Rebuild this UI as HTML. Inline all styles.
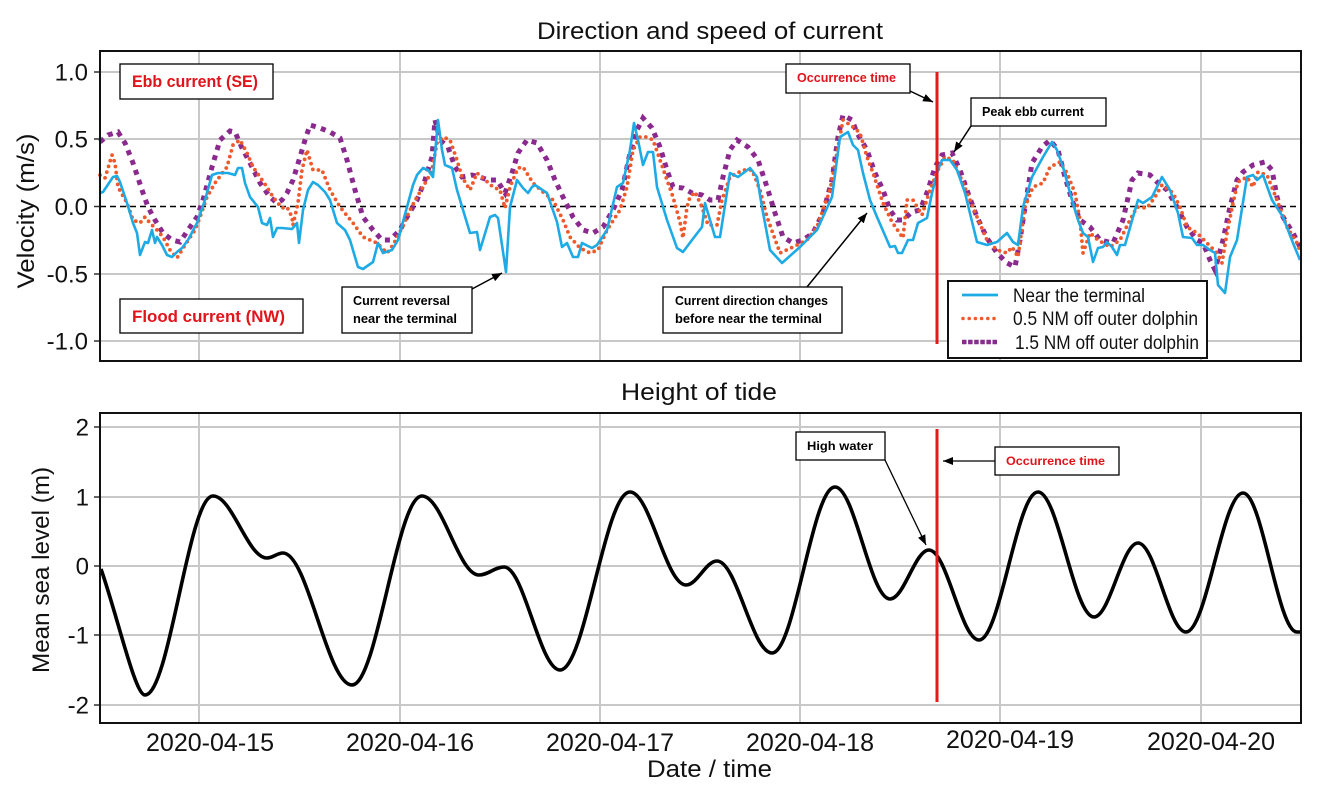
<!DOCTYPE html>
<html><head><meta charset="utf-8"><style>
html,body{margin:0;padding:0;background:#fff;}
svg{display:block;}
text{font-family:"Liberation Sans",Arial,sans-serif;}
</style></head><body>
<svg width="1317" height="797" viewBox="0 0 1317 797" xmlns="http://www.w3.org/2000/svg">
<defs>
<marker id="ah" viewBox="0 0 10 8" refX="10" refY="4" markerWidth="10" markerHeight="8" orient="auto" markerUnits="userSpaceOnUse"><path d="M0,0 L10,4 L0,8 z" fill="#000"/></marker>
</defs>
<rect x="0" y="0" width="1317" height="797" fill="#fff"/>

<!-- ===== TOP PANEL ===== -->
<text x="537" y="39" font-size="24" textLength="346" lengthAdjust="spacingAndGlyphs" fill="#111">Direction and speed of current</text>
<g stroke="#c8c8c8" stroke-width="2">
<line x1="199" y1="51" x2="199" y2="361"/><line x1="400" y1="51" x2="400" y2="361"/><line x1="600" y1="51" x2="600" y2="361"/>
<line x1="800" y1="51" x2="800" y2="361"/><line x1="1000" y1="51" x2="1000" y2="361"/><line x1="1201" y1="51" x2="1201" y2="361"/>
<line x1="100" y1="72" x2="1301" y2="72"/><line x1="100" y1="139" x2="1301" y2="139"/>
<line x1="100" y1="274" x2="1301" y2="274"/><line x1="100" y1="341" x2="1301" y2="341"/>
</g>
<line x1="100" y1="206.5" x2="1301" y2="206.5" stroke="#000" stroke-width="1.6" stroke-dasharray="6 4"/>
<g stroke="#333" stroke-width="1.5">
<line x1="94" y1="72" x2="100" y2="72"/><line x1="94" y1="139" x2="100" y2="139"/><line x1="94" y1="206.5" x2="100" y2="206.5"/><line x1="94" y1="274" x2="100" y2="274"/><line x1="94" y1="341" x2="100" y2="341"/>
</g>
<g font-size="24" fill="#111" text-anchor="end">
<text x="88" y="80.5">1.0</text><text x="88" y="147.5">0.5</text><text x="88" y="215">0.0</text><text x="88" y="282.5">-0.5</text><text x="88" y="349.5">-1.0</text>
</g>
<text transform="translate(34,211) rotate(-90)" font-size="24" text-anchor="middle" textLength="155" lengthAdjust="spacingAndGlyphs" fill="#111">Velocity (m/s)</text>

<!-- series -->
<polyline fill="none" stroke="#8b2a8e" stroke-width="5" stroke-dasharray="5 5.5" points="100,142 108,135 118,132 125,143 133,163 142,190 148,207 155,220 163,233 172,240 180,242 188,230 197,217 203,200 212,167 220,140 230,131 235,132 242,148 250,163 260,183 270,197 277,203 282,200 287,193 293,180 300,157 305,140 310,125 320,128 330,132 340,138 347,160 355,190 363,217 373,230 382,240 390,240 400,230 407,217 417,200 425,180 432,157 435,120 440,140 448,147 455,167 462,177 472,175 480,177 488,180 497,180 505,193 512,173 518,153 527,140 537,143 547,160 555,180 563,197 573,217 583,230 593,233 603,227 613,210 622,190 630,153 637,130 643,118 652,128 660,147 667,170 673,187 683,188 692,193 702,195 710,200 718,200 723,177 730,150 737,140 748,147 758,160 767,187 775,213 783,237 793,243 803,240 813,233 823,213 832,180 838,137 843,115 852,120 857,133 867,150 875,173 883,190 890,210 897,220 903,220 912,212 920,210 928,190 935,167 942,155 952,153 960,170 968,193 977,217 987,238 997,253 1007,263 1015,267 1020,240 1025,207 1032,163 1042,147 1050,140 1058,150 1065,177 1072,200 1080,220 1090,227 1100,240 1113,243 1123,220 1132,180 1138,173 1150,175 1157,182 1167,190 1177,207 1187,227 1197,240 1203,243 1210,260 1215,270 1223,240 1230,207 1237,180 1243,172 1253,165 1265,162 1272,170 1277,197 1283,217 1293,233 1300,247"/>
<polyline fill="none" stroke="#ee5a2c" stroke-width="3.8" stroke-linecap="round" stroke-dasharray="0 6" points="100,175 105,178 112,155 115,163 118,187 127,203 133,220 140,223 145,217 150,223 157,230 163,237 170,250 177,258 185,245 195,230 200,217 207,197 215,183 227,167 233,145 240,140 247,153 253,167 260,177 267,187 273,197 282,208 287,207 292,217 293,225 298,203 302,170 307,150 313,170 322,170 330,190 340,207 353,223 363,237 377,243 387,253 393,245 402,228 410,210 417,197 427,180 432,170 437,143 443,137 450,140 457,160 462,177 470,190 477,173 483,178 493,187 500,190 505,208 510,187 518,168 523,167 533,183 543,192 553,200 563,220 570,237 580,248 590,253 598,250 607,230 620,210 627,187 633,150 640,137 647,137 653,140 660,160 667,180 673,197 680,222 683,238 687,207 690,197 695,192 702,207 708,225 717,225 722,200 730,177 743,170 752,170 760,190 767,217 780,253 793,247 807,240 817,227 830,190 837,153 843,120 853,127 860,133 867,157 873,173 883,203 892,222 903,238 907,200 913,200 922,215 930,190 938,170 945,157 953,160 963,183 977,217 987,240 997,250 1007,253 1012,247 1018,257 1025,207 1033,187 1043,183 1050,167 1060,162 1067,173 1075,193 1080,220 1083,253 1090,233 1098,240 1110,247 1120,240 1130,220 1137,207 1147,208 1155,197 1162,185 1173,193 1180,207 1187,227 1197,233 1207,243 1217,253 1222,263 1227,233 1233,203 1238,182 1247,177 1253,187 1258,172 1267,175 1277,200 1287,227 1297,243 1301,253"/>
<polyline fill="none" stroke="#1eaae4" stroke-width="2.6" stroke-linejoin="round" points="100,193 103,192 113,177 117,176 120,182 127,203 133,223 137,233 140,255 145,242 148,243 152,230 155,243 157,237 162,245 167,255 172,257 177,252 182,248 188,240 197,223 205,200 212,175 218,173 228,173 235,175 238,168 242,168 245,183 250,197 258,207 262,223 267,225 270,218 273,237 277,228 282,228 292,229 297,223 299,243 303,210 308,190 313,182 318,185 325,192 330,200 337,223 345,230 350,240 355,257 358,267 363,269 373,262 378,243 383,253 392,250 398,240 407,207 413,185 417,175 423,168 428,170 433,177 438,120 442,150 445,165 452,168 457,190 470,233 477,232 480,250 490,217 495,215 498,218 506,272 510,207 517,180 523,188 528,193 532,187 535,185 547,193 557,222 562,247 567,243 573,257 578,257 582,243 592,248 597,245 607,230 617,187 623,183 630,150 634,123 638,140 643,165 648,152 653,152 657,187 667,220 677,248 683,252 692,240 702,227 705,203 715,237 720,237 730,173 738,177 750,168 757,177 762,207 770,250 782,263 800,247 817,230 832,197 840,137 848,132 853,145 858,150 863,173 870,200 877,217 887,240 890,247 895,246 898,253 902,253 908,240 913,240 918,223 927,218 932,193 938,170 942,160 950,160 957,170 965,193 977,242 987,245 997,242 1007,233 1013,242 1018,245 1023,207 1032,177 1043,157 1052,142 1057,150 1063,167 1070,193 1078,220 1083,233 1088,237 1093,262 1098,248 1103,247 1107,242 1112,247 1117,255 1120,245 1125,245 1133,217 1138,200 1143,203 1152,197 1162,177 1170,190 1178,213 1183,237 1192,238 1197,245 1203,245 1210,250 1215,253 1218,285 1225,293 1230,257 1237,240 1247,177 1253,175 1257,180 1263,175 1272,200 1283,217 1293,243 1300,260"/>

<line x1="937" y1="72" x2="937" y2="344" stroke="#e3191c" stroke-width="3"/>

<!-- annotations top -->
<g stroke="#000" stroke-width="1.3" fill="#fff">
<rect x="120" y="64" width="153" height="35"/>
<rect x="120" y="299" width="183" height="34"/>
<rect x="342" y="287" width="130" height="46"/>
<rect x="663" y="287" width="179" height="46"/>
<rect x="786" y="64" width="124" height="29"/>
<rect x="971" y="98" width="135" height="28"/>
</g>
<g font-weight="bold">
<text x="132" y="87" font-size="17" fill="#e0141b" textLength="126" lengthAdjust="spacingAndGlyphs">Ebb current (SE)</text>
<text x="132" y="322" font-size="17" fill="#e0141b" textLength="153" lengthAdjust="spacingAndGlyphs">Flood current (NW)</text>
<text x="353" y="305" font-size="13" fill="#000" textLength="97" lengthAdjust="spacingAndGlyphs">Current reversal</text>
<text x="353" y="323" font-size="13" fill="#000" textLength="104" lengthAdjust="spacingAndGlyphs">near the terminal</text>
<text x="675" y="305" font-size="13" fill="#000" textLength="153" lengthAdjust="spacingAndGlyphs">Current direction changes</text>
<text x="675" y="323" font-size="13" fill="#000" textLength="147" lengthAdjust="spacingAndGlyphs">before near the terminal</text>
<text x="797" y="82" font-size="13" fill="#e0141b" textLength="99" lengthAdjust="spacingAndGlyphs">Occurrence time</text>
<text x="982" y="116" font-size="13" fill="#000" textLength="102" lengthAdjust="spacingAndGlyphs">Peak ebb current</text>
</g>
<g stroke="#000" stroke-width="1.5" marker-end="url(#ah)">
<line x1="472" y1="289" x2="502" y2="273"/>
<line x1="807" y1="287" x2="867" y2="213"/>
<line x1="910" y1="91" x2="933" y2="102"/>
<line x1="971" y1="126" x2="954" y2="152"/>
</g>

<!-- legend -->
<rect x="948" y="281" width="259" height="77" fill="#fff" stroke="#111" stroke-width="2"/>
<line x1="962" y1="295" x2="998" y2="295" stroke="#1eaae4" stroke-width="2.8"/>
<line x1="963" y1="318.5" x2="998" y2="318.5" stroke="#ee5a2c" stroke-width="3.6" stroke-linecap="round" stroke-dasharray="0 6.2"/>
<line x1="962" y1="342" x2="998" y2="342" stroke="#8b2a8e" stroke-width="4.5" stroke-dasharray="4.5 1.6"/>
<g font-size="19" fill="#111">
<text x="1013" y="302" textLength="132" lengthAdjust="spacingAndGlyphs">Near the terminal</text>
<text x="1013" y="325" textLength="185" lengthAdjust="spacingAndGlyphs">0.5 NM off outer dolphin</text>
<text x="1015" y="349" textLength="184" lengthAdjust="spacingAndGlyphs">1.5 NM off outer dolphin</text>
</g>

<rect x="100" y="51" width="1201" height="310" fill="none" stroke="#111" stroke-width="2"/>

<!-- ===== BOTTOM PANEL ===== -->
<text x="621" y="400" font-size="24" textLength="156" lengthAdjust="spacingAndGlyphs" fill="#111">Height of tide</text>
<g stroke="#c8c8c8" stroke-width="2">
<line x1="199" y1="413" x2="199" y2="723"/><line x1="400" y1="413" x2="400" y2="723"/><line x1="600" y1="413" x2="600" y2="723"/>
<line x1="800" y1="413" x2="800" y2="723"/><line x1="1000" y1="413" x2="1000" y2="723"/><line x1="1201" y1="413" x2="1201" y2="723"/>
<line x1="100" y1="427" x2="1301" y2="427"/><line x1="100" y1="497" x2="1301" y2="497"/><line x1="100" y1="566" x2="1301" y2="566"/>
<line x1="100" y1="635" x2="1301" y2="635"/><line x1="100" y1="705" x2="1301" y2="705"/>
</g>
<g stroke="#333" stroke-width="1.5">
<line x1="94" y1="427" x2="100" y2="427"/><line x1="94" y1="497" x2="100" y2="497"/><line x1="94" y1="566" x2="100" y2="566"/><line x1="94" y1="635" x2="100" y2="635"/><line x1="94" y1="705" x2="100" y2="705"/>
</g>
<g font-size="24" fill="#111" text-anchor="end">
<text x="89" y="435.5">2</text><text x="89" y="505.5">1</text><text x="89" y="574.5">0</text><text x="89" y="643.5">-1</text><text x="89" y="713.5">-2</text>
</g>
<text transform="translate(49,570) rotate(-90)" font-size="24" text-anchor="middle" textLength="206" lengthAdjust="spacingAndGlyphs" fill="#111">Mean sea level (m)</text>

<path fill="none" stroke="#000" stroke-width="3.6" stroke-linejoin="round" d="M101,569 C118,618 135,695 145,695 C169.5,695 188.5,496 213,496 C232.4,496 247.6,558 267,558 C272.8,558 277.2,553 283,553 C307.8,553 327.2,685 352,685 C377.2,685 396.8,496 422,496 C442.5,496 458.5,575 479,575 C488,575 495,567 504,567 C524.2,567 539.8,670 560,670 C585.2,670 604.8,492 630,492 C650.2,492 665.8,585 686,585 C697.2,585 705.8,561 717,561 C736.8,561 752.2,653 772,653 C794.7,653 812.3,487 835,487 C854.8,487 870.2,599 890,599 C904,599 915,550 929,550 C947,550 961,640 979,640 C1000.2,640 1016.8,492 1038,492 C1058.2,492 1073.8,617 1094,617 C1109.8,617 1122.2,543 1138,543 C1155.3,543 1168.7,632 1186,632 C1206.5,632 1222.5,493 1243,493 C1262.4,493 1277.6,632 1297,632 L1301,632"/>

<line x1="937" y1="429" x2="937" y2="702" stroke="#e3191c" stroke-width="3"/>

<g stroke="#000" stroke-width="1.3" fill="#fff">
<rect x="796" y="432" width="89" height="28"/>
<rect x="995" y="447" width="124" height="28"/>
</g>
<g font-weight="bold" font-size="12">
<text x="807" y="450" fill="#000" textLength="66" lengthAdjust="spacingAndGlyphs">High water</text>
<text x="1006" y="465" fill="#e0141b" textLength="99" lengthAdjust="spacingAndGlyphs">Occurrence time</text>
</g>
<g stroke="#000" stroke-width="1.3" marker-end="url(#ah)">
<line x1="885" y1="460" x2="926" y2="545"/>
<line x1="995" y1="461" x2="943" y2="461"/>
</g>

<rect x="100" y="413" width="1201" height="310" fill="none" stroke="#111" stroke-width="2"/>

<g font-size="25" fill="#111">
<text x="146" y="751" textLength="128" lengthAdjust="spacingAndGlyphs">2020-04-15</text>
<text x="346" y="751" textLength="128" lengthAdjust="spacingAndGlyphs">2020-04-16</text>
<text x="546" y="751" textLength="128" lengthAdjust="spacingAndGlyphs">2020-04-17</text>
<text x="746" y="751" textLength="128" lengthAdjust="spacingAndGlyphs">2020-04-18</text>
<text x="946" y="748" textLength="128" lengthAdjust="spacingAndGlyphs">2020-04-19</text>
<text x="1147" y="750" textLength="128" lengthAdjust="spacingAndGlyphs">2020-04-20</text>
</g>
<text x="647" y="777" font-size="24" textLength="125" lengthAdjust="spacingAndGlyphs" fill="#111">Date / time</text>
</svg>
</body></html>
